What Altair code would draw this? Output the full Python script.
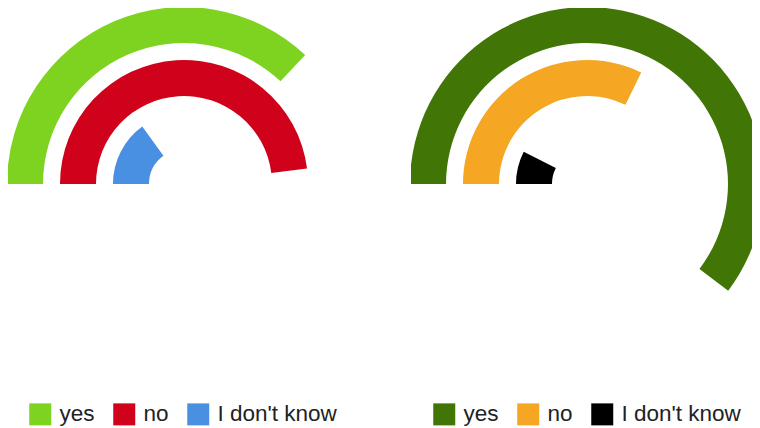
import math
import altair as alt
import pandas as pd

categories = ["yes", "no", "I don't know"]
left_values = [37, 48, 15]
right_values = [60.3, 32.2, 7.5]
left_colors = ["#7ED321", "#D0021B", "#4A90E2"]
right_colors = ["#417505", "#F5A623", "#000000"]


def make_df(values):
    n = len(categories)
    return pd.DataFrame({
        "answer": categories,
        "value": values,
        "ring": [n - 1 - i for i in range(n)],
        "start": [0] * n,
    })


def gauge(values, colors, legend_x, width):
    base = alt.Chart(make_df(values)).transform_calculate(
        r_in="datum.ring", r_out="datum.ring + 0.68"
    )
    return base.mark_arc(clip=True).encode(
        x=alt.value(176),
        y=alt.value(176),
        theta=alt.Theta("start:Q", stack=None,
                        scale=alt.Scale(domain=[0, 100], range=[-math.pi / 2, 3 * math.pi / 2])),
        theta2=alt.Theta2("value"),
        radius=alt.Radius("r_out:Q",
                          scale=alt.Scale(type="linear", domain=[0, 2.68], range=[35, 177], zero=False)),
        radius2=alt.Radius2("r_in"),
        color=alt.Color("answer:N",
                        scale=alt.Scale(domain=categories, range=colors),
                        legend=alt.Legend(
                            title=None, orient="none", legendX=legend_x, legendY=395,
                            direction="horizontal", symbolType="square", symbolSize=484,
                            symbolStrokeWidth=0, labelFontSize=22.5, labelFont="Liberation Sans",
                            labelColor="#222222", labelOffset=8, columnPadding=18,
                        )),
    ).properties(width=width, height=380)


left = gauge(left_values, left_colors, 21, 352)
right = gauge(right_values, right_colors, 22, 341)

chart = alt.hconcat(left, right, spacing=51).resolve_scale(color="independent").properties(
    padding=0
).configure_view(stroke=None)

chart.save("out.html", embed_options={"renderer": "svg", "actions": False})
